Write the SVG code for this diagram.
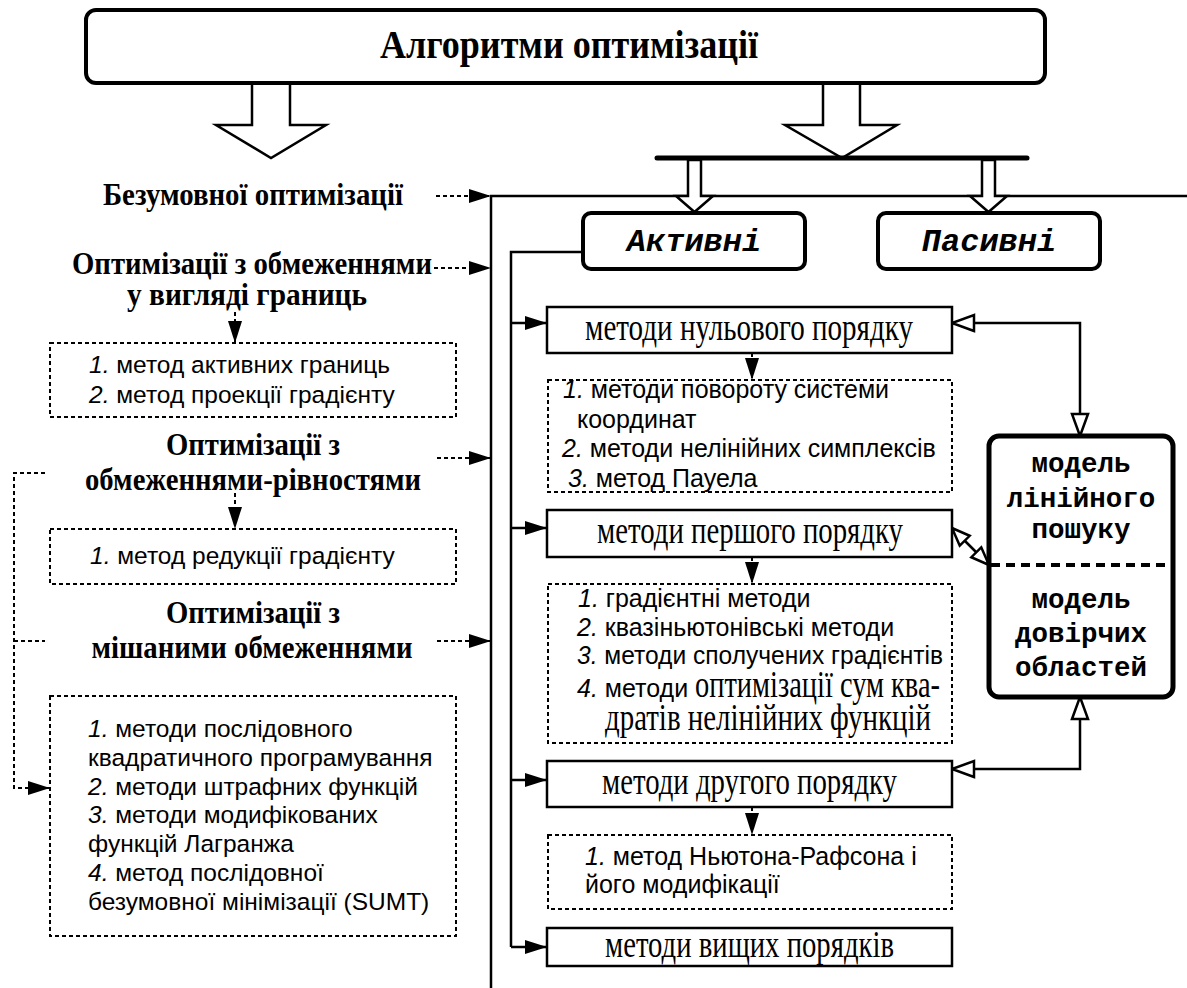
<svg xmlns="http://www.w3.org/2000/svg" width="1187" height="988" viewBox="0 0 1187 988">
<defs>
<style>
.bg{fill:#fff}
.ln{fill:none;stroke:#000;stroke-width:2.5}
.dl{fill:none;stroke:#000;stroke-width:2;stroke-dasharray:4 3}
.big{fill:#fff;stroke:#000;stroke-width:2.5;stroke-linejoin:miter}
.rbox{fill:#fff;stroke:#000;stroke-width:4}
.mbox{fill:#fff;stroke:#000;stroke-width:2.5}
.dbox{fill:none;stroke:#000;stroke-width:2;stroke-dasharray:4 3}
.h{font-family:"Liberation Serif","Times New Roman",serif;font-weight:bold;fill:#000}
.tm{font-family:"Liberation Serif","Times New Roman",serif;font-size:37px;fill:#000}
.ar{font-family:"Liberation Sans",Arial,sans-serif;font-size:24.5px;fill:#000}
.ar2{font-family:"Liberation Sans",Arial,sans-serif;font-size:25px;fill:#000}
.it{font-style:italic}
.cb{font-family:"Liberation Mono","Courier New",monospace;font-weight:bold;font-size:27.5px;fill:#000;text-anchor:middle}
.ci{font-family:"Liberation Mono","Courier New",monospace;font-weight:bold;font-style:italic;font-size:32px;fill:#000;text-anchor:middle}
</style>
<marker id="ah" markerUnits="userSpaceOnUse" markerWidth="22" markerHeight="14" viewBox="0 0 22 14" refX="22" refY="7" orient="auto" overflow="visible">
<path d="M0,0 L22,7 L0,14 Z" fill="#000"/>
</marker>
<marker id="hh" markerUnits="userSpaceOnUse" markerWidth="24" markerHeight="18" viewBox="0 0 24 18" refX="23" refY="9" orient="auto-start-reverse" overflow="visible">
<path d="M1,1 L23,9 L1,17 Z" fill="#fff" stroke="#000" stroke-width="2.5"/>
</marker>
<marker id="hs" markerUnits="userSpaceOnUse" markerWidth="20" markerHeight="16" viewBox="0 0 20 16" refX="19" refY="8" orient="auto-start-reverse" overflow="visible">
<path d="M1,1 L19,8 L1,15 Z" fill="#fff" stroke="#000" stroke-width="2.5"/>
</marker>
</defs>
<rect class="bg" x="0" y="0" width="1187" height="988"/>

<g id="connectors">
<polygon class="big" points="252,80 252,125 216,125 271,158 326,125 290,125 290,80"/>
<polygon class="big" points="823,80 823,125 785,125 842,158 897,125 860,125 860,80"/>
<line x1="657" y1="158" x2="1027" y2="158" stroke="#000" stroke-width="5" stroke-linecap="round"/>
<path class="ln" d="M491,988 V196 H1187"/>
<polygon class="big" points="688,160 688,196 676,196 694.5,212 713,196 701,196 701,160"/>
<polygon class="big" points="982,160 982,196 970,196 988.5,212 1007,196 995,196 995,160"/>
<path class="dl" d="M436,196 H491" marker-end="url(#ah)"/>
<path class="dl" d="M434,268 H491" marker-end="url(#ah)"/>
<path class="dl" d="M437,458 H491" marker-end="url(#ah)"/>
<path class="dl" d="M437,641 H491" marker-end="url(#ah)"/>
<path class="dl" d="M235,312 V343" marker-end="url(#ah)"/>
<path class="dl" d="M235,493 V529" marker-end="url(#ah)"/>
<path class="dl" d="M45,473 H14 V788 H50" marker-end="url(#ah)"/>
<path class="dl" d="M14,641 H45"/>
<path class="ln" d="M583,252 H511 V947"/>
<path class="ln" d="M511,323 H547" marker-end="url(#ah)"/>
<path class="ln" d="M511,528 H547" marker-end="url(#ah)"/>
<path class="ln" d="M511,780 H547" marker-end="url(#ah)"/>
<path class="ln" d="M511,947 H547" marker-end="url(#ah)"/>
<path class="dl" d="M752,353 V380" marker-end="url(#ah)"/>
<path class="dl" d="M752,557 V584" marker-end="url(#ah)"/>
<path class="dl" d="M752,807 V835" marker-end="url(#ah)"/>
<path class="ln" d="M952,323 H1080 V436" marker-start="url(#hh)" marker-end="url(#hh)"/>
<path class="ln" d="M952,528 L989,565" marker-start="url(#hs)" marker-end="url(#hs)"/>
<path class="ln" d="M1080,697 V769 H952" marker-start="url(#hh)" marker-end="url(#hh)"/>
</g>

<g id="title">
<rect class="rbox" x="86" y="10" width="959" height="73" rx="10"/>
<text class="h" x="569" y="58" font-size="39" text-anchor="middle" textLength="378" lengthAdjust="spacingAndGlyphs">Алгоритми оптимізації</text>
</g>

<g id="h-unconstrained">
<text class="h" x="253" y="205" font-size="31" text-anchor="middle" textLength="300" lengthAdjust="spacingAndGlyphs">Безумовної оптимізації</text>
</g>
<g id="h-bounds">
<text class="h" x="252" y="274" font-size="31" text-anchor="middle" textLength="360" lengthAdjust="spacingAndGlyphs">Оптимізації з обмеженнями</text>
<text class="h" x="247" y="305" font-size="31" text-anchor="middle" textLength="240" lengthAdjust="spacingAndGlyphs">у вигляді границь</text>
</g>
<g id="box-bounds">
<rect class="dbox" x="50" y="343" width="406" height="74"/>
<text class="ar" x="89" y="373"><tspan class="it">1.</tspan> метод активних границь</text>
<text class="ar" x="89" y="403"><tspan class="it">2.</tspan> метод проекції градієнту</text>
</g>
<g id="h-equality">
<text class="h" x="253" y="455" font-size="31" text-anchor="middle" textLength="174" lengthAdjust="spacingAndGlyphs">Оптимізації з</text>
<text class="h" x="253" y="490" font-size="31" text-anchor="middle" textLength="336" lengthAdjust="spacingAndGlyphs">обмеженнями-рівностями</text>
</g>
<g id="box-equality">
<rect class="dbox" x="50" y="529" width="406" height="55"/>
<text class="ar" x="90" y="564"><tspan class="it">1.</tspan> метод редукції градієнту</text>
</g>
<g id="h-mixed">
<text class="h" x="253" y="623" font-size="31" text-anchor="middle" textLength="174" lengthAdjust="spacingAndGlyphs">Оптимізації з</text>
<text class="h" x="252" y="658" font-size="31" text-anchor="middle" textLength="321" lengthAdjust="spacingAndGlyphs">мішаними обмеженнями</text>
</g>
<g id="box-mixed">
<rect class="dbox" x="50" y="696" width="406" height="240"/>
<text class="ar" x="88" y="737"><tspan class="it">1.</tspan> методи послідовного</text>
<text class="ar" x="88" y="766">квадратичного програмування</text>
<text class="ar" x="88" y="795"><tspan class="it">2.</tspan> методи штрафних функцій</text>
<text class="ar" x="88" y="823"><tspan class="it">3.</tspan> методи модифікованих</text>
<text class="ar" x="88" y="852">функцій Лагранжа</text>
<text class="ar" x="88" y="881"><tspan class="it">4.</tspan> метод послідовної</text>
<text class="ar" x="88" y="910">безумовної мінімізації (SUMT)</text>
</g>

<g id="active">
<rect class="rbox" x="583" y="213" width="222" height="56" rx="8"/>
<text class="ci" x="694" y="251">Активні</text>
</g>
<g id="passive">
<rect class="rbox" x="878" y="213" width="222" height="56" rx="8"/>
<text class="ci" x="989" y="251">Пасивні</text>
</g>

<g id="zero-order">
<rect class="mbox" x="547" y="307" width="405" height="46"/>
<text class="tm" x="749" y="340" text-anchor="middle" textLength="328" lengthAdjust="spacingAndGlyphs">методи нульового порядку</text>
</g>
<g id="zero-list">
<rect class="dbox" x="548" y="380" width="404" height="112"/>
<text class="ar2" x="563" y="398"><tspan class="it">1.</tspan> методи повороту системи</text>
<text class="ar2" x="577" y="428">координат</text>
<text class="ar2" x="562" y="457"><tspan class="it">2.</tspan> методи нелінійних симплексів</text>
<text class="ar2" x="568" y="487"><tspan class="it">3.</tspan> метод Пауела</text>
</g>
<g id="first-order">
<rect class="mbox" x="547" y="510" width="405" height="47"/>
<text class="tm" x="750" y="543" text-anchor="middle" textLength="306" lengthAdjust="spacingAndGlyphs">методи першого порядку</text>
</g>
<g id="first-list">
<rect class="dbox" x="548" y="584" width="404" height="159"/>
<text class="ar2" x="578" y="607"><tspan class="it">1.</tspan> градієнтні методи</text>
<text class="ar2" x="577" y="636"><tspan class="it">2.</tspan> квазіньютонівські методи</text>
<text class="ar2" x="577" y="664" textLength="366" lengthAdjust="spacingAndGlyphs"><tspan class="it">3.</tspan> методи сполучених градієнтів</text>
<text class="ar2" x="577" y="697"><tspan class="it">4.</tspan> методи</text>
<text class="tm" x="695" y="697" font-size="28" textLength="245" lengthAdjust="spacingAndGlyphs">оптимізації сум ква-</text>
<text class="tm" x="605" y="730" font-size="28" textLength="326" lengthAdjust="spacingAndGlyphs">дратів нелінійних функцій</text>
</g>
<g id="second-order">
<rect class="mbox" x="547" y="761" width="405" height="46"/>
<text class="tm" x="749.5" y="794" text-anchor="middle" textLength="295" lengthAdjust="spacingAndGlyphs">методи другого порядку</text>
</g>
<g id="second-list">
<rect class="dbox" x="548" y="835" width="404" height="74"/>
<text class="ar2" x="585" y="865"><tspan class="it">1.</tspan> метод Ньютона-Рафсона і</text>
<text class="ar2" x="585" y="893">його модифікації</text>
</g>
<g id="higher-order">
<rect class="mbox" x="547" y="928" width="405" height="38"/>
<text class="tm" x="749.5" y="957" text-anchor="middle" textLength="289" lengthAdjust="spacingAndGlyphs">методи вищих порядків</text>
</g>

<g id="models">
<rect x="989" y="436" width="184" height="261" rx="10" fill="#fff" stroke="#000" stroke-width="5"/>
<line x1="991" y1="565" x2="1171" y2="565" stroke="#000" stroke-width="4" stroke-dasharray="9 6"/>
<text class="cb" x="1081" y="472">модель</text>
<text class="cb" x="1081" y="507">лінійного</text>
<text class="cb" x="1081" y="538">пошуку</text>
<text class="cb" x="1081" y="608">модель</text>
<text class="cb" x="1081" y="642">довірчих</text>
<text class="cb" x="1081" y="676">областей</text>
</g>
</svg>
